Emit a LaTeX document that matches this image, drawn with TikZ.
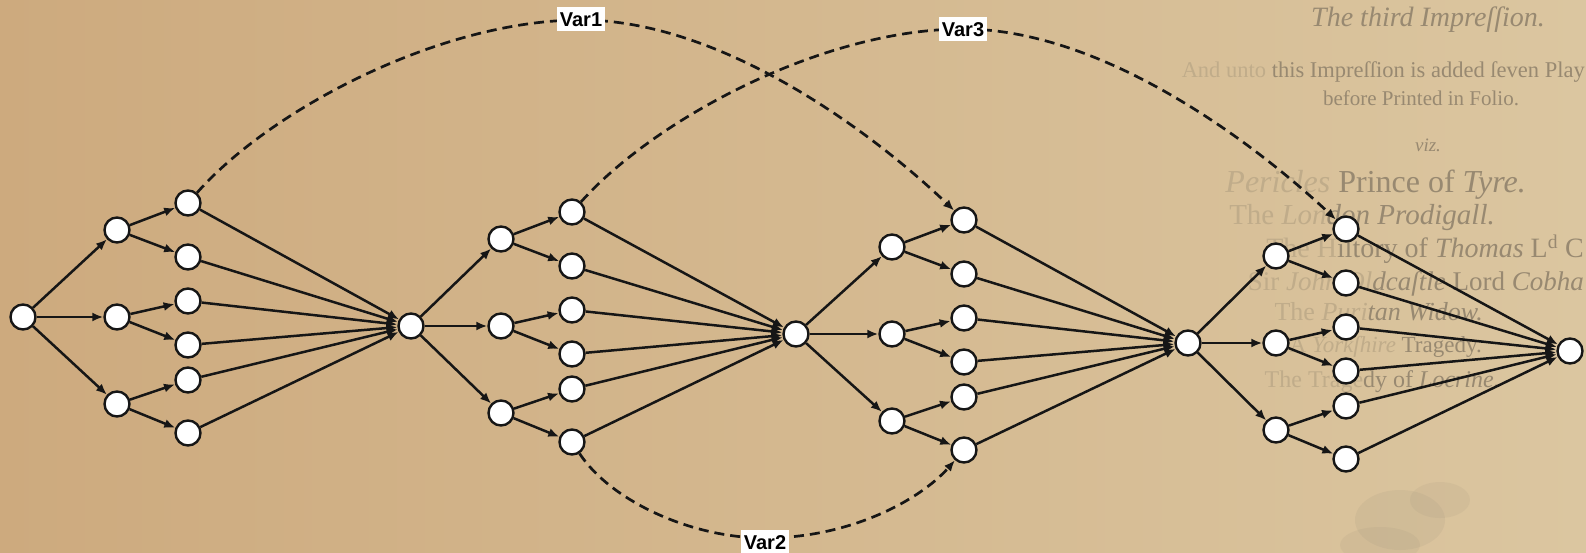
\documentclass[tikz,border=0pt]{standalone}
\usepackage{fontspec}
\setmainfont{Liberation Serif}
\newfontfamily\labelfont{Liberation Sans}
\usetikzlibrary{arrows.meta}

\definecolor{paperA}{RGB}{205,170,126}
\definecolor{paperB}{RGB}{214,189,148}
\definecolor{paperC}{RGB}{219,198,160}
\definecolor{ink}{RGB}{22,22,22}
\definecolor{printA}{RGB}{152,137,113}
\definecolor{printB}{RGB}{192,172,138}

\tikzset{
  state/.style={circle, draw=ink, line width=2.4pt, fill=white,
    minimum size=25pt, inner sep=0pt},
  flow/.style={draw=ink, line width=2.5pt, -{Latex[length=11pt,width=9pt]}},
  link/.style={flow, line width=2.7pt, dash pattern=on 10pt off 6pt},
  varlabel/.style={fill=white, inner xsep=3pt, inner ysep=5pt,
    font=\labelfont\bfseries\fontsize{20}{22}\selectfont,
    text height=14pt, text depth=0pt},
  printed/.style={text=printA, inner sep=0pt}
}
\newcommand{\faint}[1]{\textcolor{printB}{#1}}

\begin{document}
\begin{tikzpicture}[x=1pt, y=-1pt]
  \useasboundingbox (0,0) rectangle (1586,552);
  \clip (0,0) rectangle (1586,552);

  % aged paper
  \shade[left color=paperA, middle color=paperB, right color=paperC]
    (0,0) rectangle (1586,552);
  \fill[gray!60!black, opacity=0.06] (1400,520) ellipse (45 and 30);
  \fill[gray!60!black, opacity=0.05] (1440,500) ellipse (30 and 18);
  \fill[gray!60!black, opacity=0.05] (1380,545) ellipse (40 and 18);

  % faded print of the title page
  \node[printed, font=\itshape\fontsize{28}{30}\selectfont] (p1) at (1428,20)
    {The third Impreſſion.};
  \node[printed, anchor=mid east, font=\fontsize{22.5}{25}\selectfont] (p2) at (1585,75)
    {\faint{And unto} this Impreſſion is added ſeven Play};
  \node[printed, font=\fontsize{21}{24}\selectfont] (p3) at (1421,98)
    {before Printed in Folio.};
  \node[printed, font=\itshape\fontsize{19}{22}\selectfont] (p4) at (1428,145) {viz.};
  \node[printed, anchor=mid east, font=\fontsize{32}{34}\selectfont] (p5) at (1526,190)
    {\faint{\itshape Pericles} Prince of {\itshape Tyre.}};
  \node[printed, anchor=mid east, font=\fontsize{29}{31}\selectfont] (p6) at (1495,222)
    {\faint{The {\itshape Lon}}{\itshape don Prodigall.}};
  \node[printed, anchor=mid east, font=\fontsize{28}{30}\selectfont] (p7) at (1584,255)
    {\faint{The H}iſtory of {\itshape Thomas} L\textsuperscript{d} C};
  \node[printed, anchor=mid east, font=\fontsize{27}{30}\selectfont] (p8) at (1584,288)
    {\faint{Sir {\itshape John Ol}}{\itshape dcaſtle} Lord {\itshape Cobha}};
  \node[printed, anchor=mid east, font=\fontsize{26}{28}\selectfont] (p9) at (1483,318)
    {\faint{The {\itshape Puri}}{\itshape tan Widow.}};
  \node[printed, anchor=mid east, font=\fontsize{23}{26}\selectfont] (p10) at (1482,350)
    {\faint{A {\itshape Yorkſhire}} Tragedy.};
  \node[printed, anchor=mid east, font=\fontsize{24}{26}\selectfont] (p11) at (1500,385)
    {\faint{The Trage}dy of {\itshape Locrine.}};

  % states: hub, first split, second split for each stage
  \foreach \k/\hx/\hy/\ax/\bx in {0/23/317/117/188, 1/411/326/501/572,
                                 2/796/334/892/964, 3/1188/343/1276/1346}{
    \node[state] (h\k) at (\hx,\hy) {};
    \node[state] (a\k1) at (\ax,\hy-87) {};
    \node[state] (a\k2) at (\ax,\hy) {};
    \node[state] (a\k3) at (\ax,\hy+87) {};
    \node[state] (b\k1) at (\bx,\hy-114) {};
    \node[state] (b\k2) at (\bx,\hy-60) {};
    \node[state] (b\k3) at (\bx,\hy-16) {};
    \node[state] (b\k4) at (\bx,\hy+28) {};
    \node[state] (b\k5) at (\bx,\hy+63) {};
    \node[state] (b\k6) at (\bx,\hy+116) {};
  }
  \node[state] (h4) at (1570,351) {};

  % transitions
  \foreach \k in {0,...,3}{
    \pgfmathtruncatemacro\n{\k+1}
    \foreach \i in {1,2,3} \draw[flow] (h\k) -- (a\k\i);
    \draw[flow] (a\k1) -- (b\k1);
    \draw[flow] (a\k1) -- (b\k2);
    \draw[flow] (a\k2) -- (b\k3);
    \draw[flow] (a\k2) -- (b\k4);
    \draw[flow] (a\k3) -- (b\k5);
    \draw[flow] (a\k3) -- (b\k6);
    \foreach \j in {1,...,6} \draw[flow] (b\k\j) -- (h\n);
  }

  % variable links
  \coordinate (v1) at (581,20);
  \coordinate (v3) at (963,29);
  \coordinate (v2) at (765,538);
  \draw[link] (b01) .. controls (270,110) and (440,20) .. (v1)
                    .. controls (720,20) and (870,130) .. (b21);
  \draw[link] (b11) .. controls (654,120) and (822,29) .. (v3)
                    .. controls (1102,29) and (1252,141) .. (b31);
  \draw[link] (b16) .. controls (610,500) and (690,538) .. (v2)
                    .. controls (850,538) and (920,500) .. (b26);

  \node[varlabel] (l1) at (581,19) {Var1};
  \node[varlabel] (l3) at (963,29) {Var3};
  \node[varlabel] (l2) at (765,542) {Var2};
\end{tikzpicture}
\end{document}
